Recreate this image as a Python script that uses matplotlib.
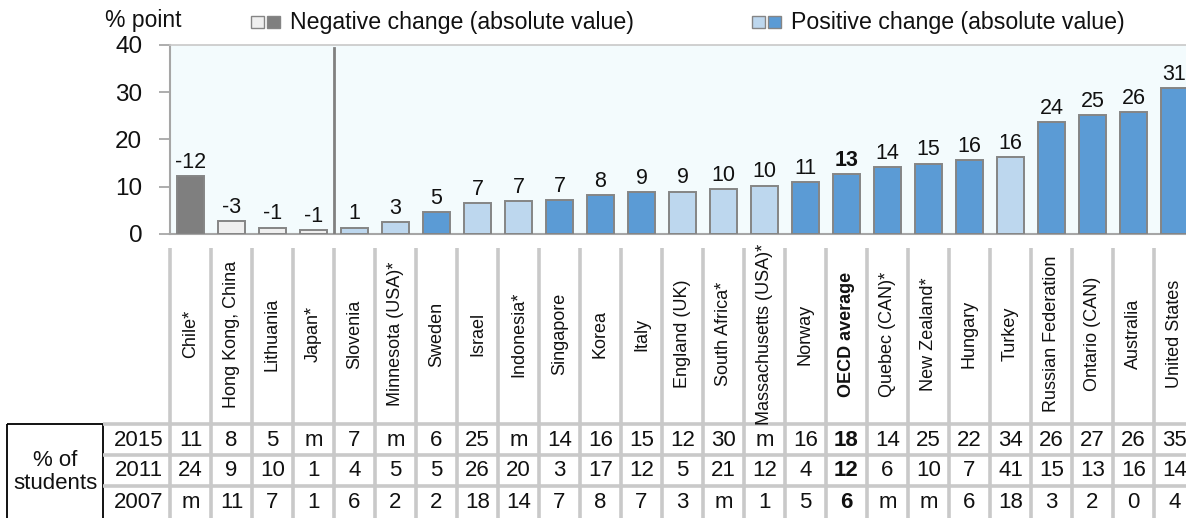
import matplotlib.pyplot as plt
from matplotlib.patches import Rectangle
from matplotlib import font_manager

countries = ['Chile*', 'Hong Kong, China', 'Lithuania', 'Japan*', 'Slovenia',
             'Minnesota (USA)*', 'Sweden', 'Israel', 'Indonesia*', 'Singapore',
             'Korea', 'Italy', 'England (UK)', 'South Africa*',
             'Massachusetts (USA)*', 'Norway', 'OECD average', 'Quebec (CAN)*',
             'New Zealand*', 'Hungary', 'Turkey', 'Russian Federation',
             'Ontario (CAN)', 'Australia', 'United States']
# absolute change in percentage points (bar height) and printed label
change = [12.3, 2.75, 1.35, 0.85, 1.35, 2.5, 4.65, 6.6, 6.9, 7.2, 8.25, 8.8,
          8.95, 9.45, 10.2, 10.9, 12.6, 14.1, 14.9, 15.7, 16.2, 23.7, 25.1,
          25.8, 30.8]
change_labels = ['-12', '-3', '-1', '-1', '1', '3', '5', '7', '7', '7', '8',
                 '9', '9', '10', '10', '11', '13', '14', '15', '16', '16',
                 '24', '25', '26', '31']
negative = [True, True, True, True] + [False] * 21
significant = [True, False, False, False, False, False, True, False, False,
               True, True, True, False, False, False, True, True, True, True,
               True, False, True, True, True, True]
years = ['2015', '2011', '2007']
pct_2015 = ['11', '8', '5', 'm', '7', 'm', '6', '25', 'm', '14', '16', '15',
            '12', '30', 'm', '16', '18', '14', '25', '22', '34', '26', '27',
            '26', '35']
pct_2011 = ['24', '9', '10', '1', '4', '5', '5', '26', '20', '3', '17', '12',
            '5', '21', '12', '4', '12', '6', '10', '7', '41', '15', '13', '16',
            '14']
pct_2007 = ['m', '11', '7', '1', '6', '2', '2', '18', '14', '7', '8', '7', '3',
            'm', '1', '5', '6', 'm', 'm', '6', '18', '3', '2', '0', '4']

names = {f.name for f in font_manager.fontManager.ttflist}
narrow = 'Liberation Sans Narrow' if 'Liberation Sans Narrow' in names else 'Liberation Sans'
plt.rcParams['font.family'] = ['Liberation Sans', 'DejaVu Sans']

DARK_BLUE, LIGHT_BLUE = '#5b9bd5', '#bdd7ee'
DARK_GREY, LIGHT_GREY = '#7f7f7f', '#efefef'
EDGE = '#858585'
GRID = '#c9c9c9'
TXT = '#111111'
NUM_SIZE = 16

W, H = 1186, 518
fig = plt.figure(figsize=(W / 100, H / 100), dpi=100)

# pixel layout
ax_left, ax_right, ax_top, ax_bottom = 170, 1195, 45, 234
ax = fig.add_axes([ax_left / W, 1 - ax_bottom / H, (ax_right - ax_left) / W,
                   (ax_bottom - ax_top) / H])
n = len(countries)
x = list(range(n))
colors = []
for neg, sig in zip(negative, significant):
    if neg:
        colors.append(DARK_GREY if sig else LIGHT_GREY)
    else:
        colors.append(DARK_BLUE if sig else LIGHT_BLUE)

ax.set_facecolor('#f3fbfd')
ax.bar(x, change, width=0.66, color=colors, edgecolor=EDGE, linewidth=1.4,
       zorder=3)
for xi, h, lab, c in zip(x, change, change_labels, countries):
    ax.text(xi, h + 0.7, lab, ha='center', va='bottom', fontsize=15.5,
            family=narrow, color=TXT,
            fontweight='bold' if c == 'OECD average' else 'normal')
ax.axvline(3.5, ymin=0, ymax=0.985, color='#808080', lw=2, zorder=4)
ax.set_xlim(-0.5, n - 0.5)
ax.set_ylim(0, 40)
ax.set_yticks([0, 10, 20, 30, 40])
ax.tick_params(axis='y', length=8, width=1.2, color='#a0a0a0', pad=12,
               labelsize=17.5, labelcolor=TXT)
for lab in ax.get_yticklabels():
    lab.set_family(narrow)
ax.set_xticks([])
for s in ['left', 'bottom']:
    ax.spines[s].set_color('#a6a6a6')
    ax.spines[s].set_linewidth(1.5)
ax.spines['top'].set_color('#c8c8c8')
ax.spines['top'].set_linewidth(1.2)
ax.spines['right'].set_visible(False)

fig.text(105 / W, 1 - 20 / H, '% point', fontsize=16.5, family=narrow,
         va='center', ha='left', color=TXT)

# legend
def legend_item(px, c1, c2, text):
    y = 1 - 28 / H
    for off, c in [(0, c1), (16, c2)]:
        fig.patches.append(Rectangle(((px + off) / W, y), 13 / W, 12 / H,
                                     transform=fig.transFigure,
                                     facecolor=c, edgecolor=EDGE, lw=1))
    fig.text((px + 39) / W, 1 - 22 / H, text, fontsize=16.7, va='center',
             ha='left', color=TXT)

legend_item(251, LIGHT_GREY, DARK_GREY, 'Negative change (absolute value)')
legend_item(752, LIGHT_BLUE, DARK_BLUE, 'Positive change (absolute value)')

# table area below the chart
tab_top = 248
tab = fig.add_axes([0, 0, ax_right / W, 1 - tab_top / H])
px_per_unit = (ax_right - ax_left) / n
x0 = -0.5 - ax_left / px_per_unit
tab.set_xlim(x0, n - 0.5)
tab.set_ylim(H, tab_top)
tab.axis('off')

def px2x(px):
    return x0 + px / px_per_unit

row_lines = [424, 455, 486]
row_centers = [440, 471, 502]
for k in range(n + 1):
    tab.plot([k - 0.5, k - 0.5], [tab_top, H], color=GRID, lw=2.6,
             solid_capstyle='butt')
for yl in row_lines:
    tab.plot([px2x(103), n - 0.5], [yl, yl], color=GRID, lw=2.6,
             solid_capstyle='butt')

for xi, c in zip(x, countries):
    tab.text(xi, 334, c, rotation=90, ha='center', va='center', fontsize=13,
             family=narrow, color=TXT,
             fontweight='bold' if c == 'OECD average' else 'normal')

for yr, row, yc in zip(years, [pct_2015, pct_2011, pct_2007], row_centers):
    tab.text(px2x(139), yc, yr, ha='center', va='center', fontsize=NUM_SIZE,
             family=narrow, color=TXT)
    for xi, v, c in zip(x, row, countries):
        tab.text(xi, yc, v, ha='center', va='center', fontsize=NUM_SIZE,
                 family=narrow, color=TXT,
                 fontweight='bold' if c == 'OECD average' else 'normal')

tab.add_patch(Rectangle((px2x(7), 424), px2x(103) - px2x(7), H - 424 + 5,
                        facecolor='none', edgecolor='black', lw=1.3,
                        clip_on=False))
tab.text(px2x(55), 472, '% of\nstudents', ha='center', va='center',
         fontsize=NUM_SIZE, family=narrow, color=TXT, linespacing=1.15)

fig.savefig('out.png', dpi=100)
